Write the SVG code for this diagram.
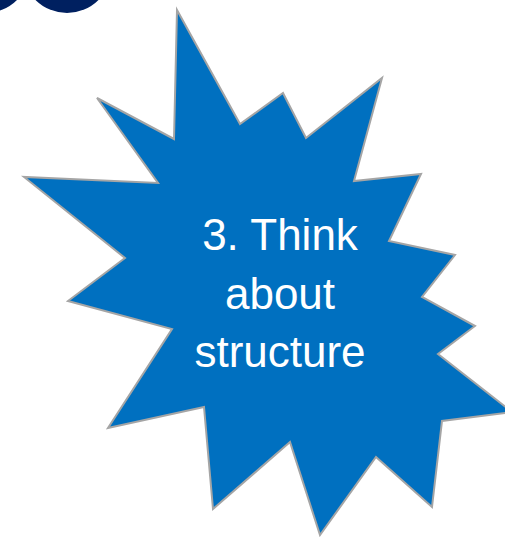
<svg xmlns="http://www.w3.org/2000/svg" width="505" height="537" viewBox="0 0 505 537">
<style>
.dot{fill:#002060}
.burst{fill:#0070C0;stroke:#A5A5A5;stroke-width:2;stroke-linejoin:miter}
.lbl{fill:#FFFFFF;font-family:"Liberation Sans",Arial,sans-serif;font-size:44px;text-anchor:middle}
</style>
<rect width="505" height="537" fill="#FFFFFF"/>
<g id="dots">
<circle class="dot" cx="-14.5" cy="-31.7" r="44.7"/>
<circle class="dot" cx="67" cy="-31.7" r="44.7"/>
</g>
<g id="burst">
<polygon class="burst" points="177,10 240,124 283,93 306,138 382,78 354,181 421,174 389,241 455,255 422,297 475,326 438,354 512,412 442,421 432,507 376,457 320,535 290,442 213,509 204,407 108,428 172,329 68,301 125,258 24,177 158,183 97,98 174,139"/>
<text class="lbl" x="280" y="250">3. Think</text>
<text class="lbl" x="280" y="309">about</text>
<text class="lbl" x="280" y="367">structure</text>
</g>
</svg>
